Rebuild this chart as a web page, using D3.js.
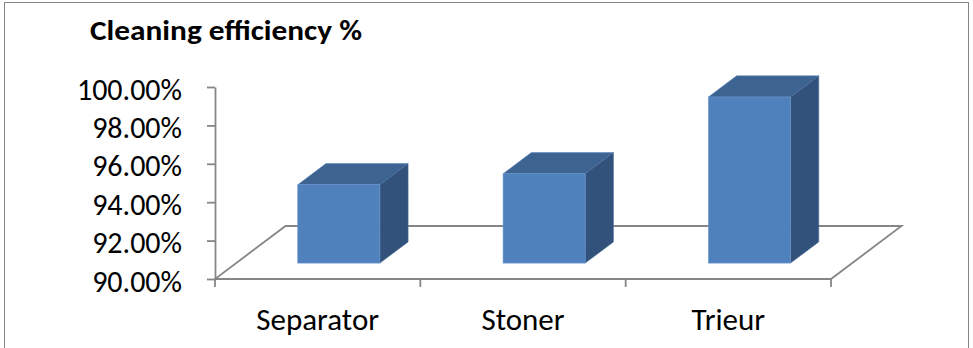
<!DOCTYPE html>
<html><head><meta charset="utf-8">
<script src="https://cdn.jsdelivr.net/npm/d3@7"></script>
<style>
html,body{margin:0;padding:0;background:#fff;}
svg{display:block;}
text{font-family:Carlito, Lato, "Open Sans", sans-serif;fill:#000;}
</style></head>
<body>
<script>
const categories = ["Separator", "Stoner", "Trieur"];
const values = [0.9408, 0.9465, 0.9865];
const yTicks = [0.90, 0.92, 0.94, 0.96, 0.98, 1.00];
const title = "Cleaning efficiency %";

const W = 973, H = 348;
const svg = d3.select("body").append("svg").attr("width", W).attr("height", H);

// outer border
svg.append("rect").attr("x", 4.5).attr("y", 2.5).attr("width", 964).attr("height", 360)
  .attr("fill", "none").attr("stroke", "#868686").attr("stroke-width", 1);

const y = d3.scaleLinear().domain([0.90, 1.00]).range([279, 87]);
const x = d3.scaleBand().domain(categories).range([215, 831]).paddingInner(0).paddingOuter(0);
const depthX = 70.5, depthY = -53;
const dx = t => t * depthX, dy = t => t * depthY;
const grey = "#868686";

// floor
const x0 = x.range()[0], x1 = x.range()[1], yb = y(0.90);
const floor = [[x0, yb], [x1, yb], [x1 + dx(1), yb + dy(1)], [x0 + dx(1), yb + dy(1)]];
svg.append("path").attr("d", "M" + floor.join("L") + "Z")
  .attr("fill", "none").attr("stroke", grey).attr("stroke-width", 1.8);

// y axis
const yAxis = d3.axisLeft(y).tickValues(yTicks).tickFormat(d3.format(".2%"))
  .tickSize(8).tickSizeOuter(0).tickPadding(25);
const gy = svg.append("g").attr("transform", `translate(${x0},0)`).call(yAxis);
gy.select(".domain").attr("stroke", grey).attr("stroke-width", 1.8);
gy.selectAll(".tick line").attr("stroke", grey).attr("stroke-width", 1.8);
gy.selectAll(".tick text").style("font-size", "30px").attr("dy", "0.4em");

// x axis ticks at band boundaries
const bounds = categories.map(c => x(c)).concat([x1]);
svg.selectAll(".xt").data(bounds).enter().append("line")
  .attr("x1", d => d).attr("x2", d => d).attr("y1", yb).attr("y2", yb + 8)
  .attr("stroke", grey).attr("stroke-width", 1.8);
svg.selectAll(".xl").data(categories).enter().append("text")
  .attr("x", d => x(d) + x.bandwidth() / 2).attr("y", 330)
  .attr("text-anchor", "middle").style("font-size", "31px").text(d => d);

// bars
const bw = x.bandwidth() / 2.5;
const t0 = 0.3, t1 = 0.7;
const bars = svg.selectAll(".bar").data(categories.map((c, i) => ({c, v: values[i]}))).enter().append("g");
bars.each(function(d) {
  const g = d3.select(this);
  const fl = x(d.c) + (x.bandwidth() - bw) / 2 + dx(t0);
  const fr = fl + bw;
  const ft = y(d.v) + dy(t0);
  const fb = y(0.90) + dy(t0);
  const ox = dx(t1 - t0), oy = dy(t1 - t0);
  g.append("path").attr("d", `M${fl},${ft}L${fr},${ft}L${fr+ox},${ft+oy}L${fl+ox},${ft+oy}Z`)
    .attr("fill", "#3d6391").attr("stroke", "#5a86bb").attr("stroke-width", 0.6);
  g.append("path").attr("d", `M${fr},${ft}L${fr+ox},${ft+oy}L${fr+ox},${fb+oy}L${fr},${fb}Z`)
    .attr("fill", "#32527b").attr("stroke", "#4a6f9c").attr("stroke-width", 0.6);
  g.append("rect").attr("x", fl).attr("y", ft).attr("width", bw).attr("height", fb - ft)
    .attr("fill", "#4f81bd").attr("stroke", "#6a96cc").attr("stroke-width", 0.6);
});

// title
svg.append("text").attr("x", 90).attr("y", 40).style("font-size", "28px").style("font-weight", "bold")
  .attr("textLength", 272).attr("lengthAdjust", "spacingAndGlyphs").text(title);
</script>
</body></html>
